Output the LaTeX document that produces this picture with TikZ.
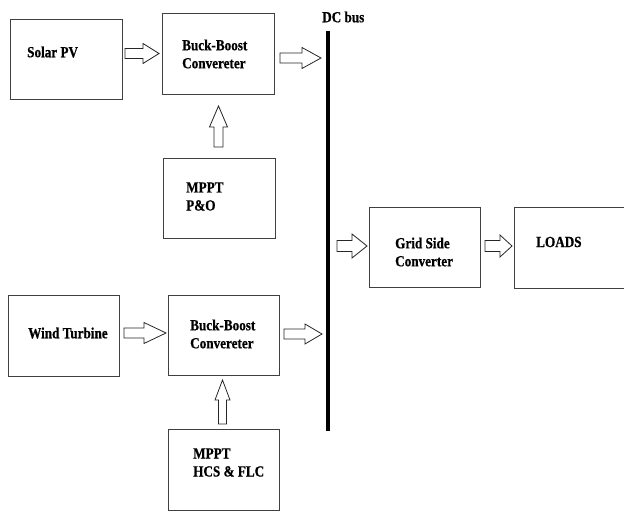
\documentclass[tikz,border=0pt]{standalone}
\usepackage{fontspec}
\setmainfont{Liberation Serif}[FakeStretch=0.85, BoldFeatures={FakeBold=0.6}]
\usetikzlibrary{calc}
\tikzset{
  box/.style={draw=black!75, line width=0.9pt, inner sep=0pt, outer sep=0pt},
  lbl/.style={anchor=west, inner sep=0pt, align=left, font=\fontsize{15.5pt}{18pt}\selectfont\bfseries},
  blockarrow/.style={draw=black!85, line width=0.8pt, line join=miter, fill=white},
  busline/.style={line width=4pt, black}
}
% horizontal block arrow: #1 start, #2 tip, #3 shaft half width, #4 head half width, #5 head length
\newcommand{\harr}[5]{\draw[blockarrow] let \p1=#1, \p2=#2 in
  (\x1,\y1+#3) -- (\x2-#5,\y1+#3) -- (\x2-#5,\y1+#4) -- (\x2,\y1) --
  (\x2-#5,\y1-#4) -- (\x2-#5,\y1-#3) -- (\x1,\y1-#3) -- cycle;}
% upward block arrow
\newcommand{\varr}[5]{\draw[blockarrow] let \p1=#1, \p2=#2 in
  (\x1-#3,\y1) -- (\x1-#3,\y2-#5) -- (\x1-#4,\y2-#5) -- (\x1,\y2) --
  (\x1+#4,\y2-#5) -- (\x1+#3,\y2-#5) -- (\x1+#3,\y1) -- cycle;}
\begin{document}
\begin{tikzpicture}[x=1pt, y=-1pt]
\useasboundingbox (0,0) rectangle (624,511);
% boxes
\node[box, minimum width=112pt, minimum height=80pt] (solar) at (66,59) {};
\node[box, minimum width=112pt, minimum height=81pt] (bb1) at (218,53.5) {};
\node[box, minimum width=112pt, minimum height=80pt] (mppt1) at (219,198) {};
\node[box, minimum width=111pt, minimum height=81pt] (wind) at (63.5,335.5) {};
\node[box, minimum width=111pt, minimum height=80pt] (bb2) at (223.5,335) {};
\node[box, minimum width=111pt, minimum height=81pt] (mppt2) at (223.5,469.5) {};
\node[box, minimum width=111pt, minimum height=80pt] (grid) at (424.5,247) {};
\node[box, minimum width=116pt, minimum height=81pt] (loads) at (572,247.5) {};
% texts
\node[lbl] (tsolar) at (27,52) {Solar PV};
\node[lbl] (tbb1) at (182,54) {Buck-Boost\\Convereter};
\node[lbl] (tmppt1) at (186,196.5) {MPPT\\P\&O};
\node[lbl] (twind) at (28,333) {Wind Turbine};
\node[lbl] (tbb2) at (190,334) {Buck-Boost\\Convereter};
\node[lbl] (tmppt2) at (193,462.5) {MPPT\\HCS \& FLC};
\node[lbl] (tgrid) at (395,252) {Grid Side\\Converter};
\node[lbl] (tloads) at (536,242) {LOADS};
\node[lbl] (tbus) at (322,17) {DC bus};
% DC bus
\coordinate (bustop) at (328,31);
\coordinate (busbot) at (328,431);
\draw[busline] (bustop) -- (busbot);
% arrows
\coordinate (a1s) at ($(solar.east |- bb1.west)+(3,0)$);
\coordinate (a1e) at ($(bb1.west)+(-3,0)$);
\harr{(a1s)}{(a1e)}{5}{10}{16}
\coordinate (a2s) at ($(bb1.east)+(6,4.5)$);
\coordinate (a2e) at ($(a2s -| bustop)+(-7,0)$);
\harr{(a2s)}{(a2e)}{5}{10.5}{19}
\coordinate (a3s) at ($(mppt1.north)+(-0.5,-11)$);
\coordinate (a3e) at ($(bb1.south)+(0.5,12)$);
\varr{(a3s)}{(a3e)}{4.5}{9}{21}
\coordinate (a4s) at ($(wind.east)+(5,-2.5)$);
\coordinate (a4e) at ($(a4s -| bb2.west)+(-2,0)$);
\harr{(a4s)}{(a4e)}{5}{10.5}{22}
\coordinate (a5s) at ($(bb2.east)+(5,-1)$);
\coordinate (a5e) at ($(a5s -| busbot)+(-6,0)$);
\harr{(a5s)}{(a5e)}{5}{10}{17}
\coordinate (a6s) at ($(mppt2.north)+(-1,-5)$);
\coordinate (a6e) at ($(bb2.south)+(-1,5)$);
\varr{(a6s)}{(a6e)}{4}{7.5}{20}
\coordinate (a7e) at ($(grid.west)+(-2,-1)$);
\coordinate (a7s) at ($(a7e -| bustop)+(9,0)$);
\harr{(a7s)}{(a7e)}{5.5}{12}{15}
\coordinate (a8s) at ($(grid.east)+(5,-1)$);
\coordinate (a8e) at ($(a8s -| loads.west)+(-2,0)$);
\harr{(a8s)}{(a8e)}{5.5}{11}{12}
\end{tikzpicture}
\end{document}
